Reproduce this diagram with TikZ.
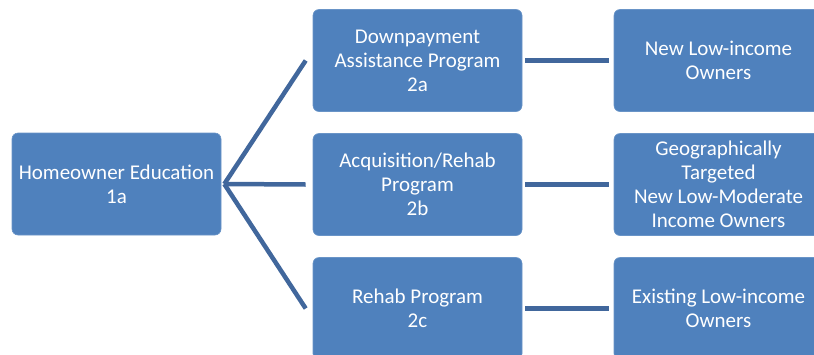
\documentclass[tikz,border=0pt]{standalone}
\usepackage{fontspec}
\setmainfont{Carlito}
\usetikzlibrary{positioning}
\definecolor{boxblue}{HTML}{4F81BD}
\definecolor{linkblue}{HTML}{41679C}
\tikzset{
  stage/.style={rectangle, rounded corners=6pt, fill=boxblue, draw=boxblue!85!white,
    line width=0.6pt, minimum width=209pt, minimum height=102pt, text=white,
    align=center, font=\fontsize{21}{24}\selectfont},
  link/.style={draw=linkblue, line width=4.5pt}
}
\begin{document}
\begin{tikzpicture}[x=1pt,y=-1pt]
\useasboundingbox (0,0) rectangle (814,354);
\clip (0,0) rectangle (814,354);
\node [stage] (educ) at (116.5,184) {Homeowner Education\\1a};
\node [stage] (proga) at (417.5,60.5) {Downpayment\\Assistance Program\\2a};
\node [stage] (progb) at (417.5,184.5) {Acquisition/Rehab\\Program\\2b};
\node [stage] (progc) at (417.5,308.5) {Rehab Program\\2c};
\node [stage] (owna) at (718.5,60.5) {New Low-income\\Owners};
\node [stage] (ownb) at (718.5,184.5) {Geographically\\Targeted\\New Low-Moderate\\Income Owners};
\node [stage] (ownc) at (718.5,308.5) {Existing Low-income\\Owners};
\coordinate (fan) at ([xshift=3pt]educ.east);
\draw[link] (fan) -- ([xshift=-7pt]proga.west);
\draw[link] (fan) -- ([xshift=-7pt]progb.west);
\draw[link] (fan) -- ([xshift=-7pt]progc.west);
%% program to owner group
\draw[link] ([xshift=3pt]proga.east) -- ([xshift=-5pt]owna.west);
\draw[link] ([xshift=3pt]progb.east) -- ([xshift=-5pt]ownb.west);
\draw[link] ([xshift=3pt]progc.east) -- ([xshift=-5pt]ownc.west);
\end{tikzpicture}
\end{document}
